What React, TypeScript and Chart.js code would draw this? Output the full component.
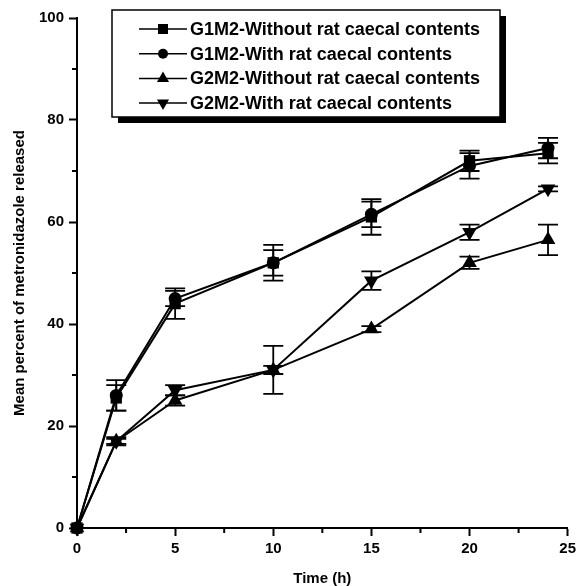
import React, { useEffect, useRef } from 'react';
import { Chart, registerables } from 'chart.js';

Chart.register(...registerables);

const times = [0, 2, 5, 10, 15, 20, 24];
const seriesLabels = [
  'G1M2-Without rat caecal contents',
  'G1M2-With rat caecal contents',
  'G2M2-Without rat caecal contents',
  'G2M2-With rat caecal contents',
];
const g1m2Without = [0, 25.5, 44, 52, 61, 72, 73.5];
const g1m2WithoutErr = [0, 2.5, 3, 3.5, 3.5, 2, 2];
const g1m2With = [0, 26, 45, 52, 61.5, 71, 74.5];
const g1m2WithErr = [0, 3, 1.5, 2.5, 2.5, 2.5, 2];
const g2m2Without = [0, 17, 25, 31, 39, 52, 56.5];
const g2m2WithoutErr = [0, 0.8, 1, 4.7, 0.6, 1.2, 3];
const g2m2With = [0, 17, 27, 31, 48.5, 58, 66.5];
const g2m2WithErr = [0, 0.5, 1, 0.8, 1.8, 1.5, 0.5];
const xMinorTicks = [2.5, 7.5, 12.5, 17.5, 22.5];
const yMinorTicks = [10, 30, 50, 70, 90];
const xTitle = 'Time (h)';
const yTitle = 'Mean percent of metronidazole released';

const FONT = '"Liberation Sans", Arial, Helvetica, sans-serif';

const markerDefs = [
  { style: 'rect', radius: 8, rotation: 0, legendSize: 5 },
  { style: 'circle', radius: 6.5, rotation: 0, legendSize: 5 },
  { style: 'triangle', radius: 8.5, rotation: 0, legendSize: 7 },
  { style: 'triangle', radius: 8.5, rotation: 180, legendSize: 7 },
];

function drawLegendMarker(ctx: CanvasRenderingContext2D, kind: number, x: number, y: number, s: number) {
  ctx.beginPath();
  if (kind === 0) {
    ctx.rect(x - s, y - s, 2 * s, 2 * s);
  } else if (kind === 1) {
    ctx.arc(x, y, s, 0, Math.PI * 2);
  } else if (kind === 2) {
    ctx.moveTo(x, y - s);
    ctx.lineTo(x + s * 0.866, y + s * 0.5);
    ctx.lineTo(x - s * 0.866, y + s * 0.5);
    ctx.closePath();
  } else {
    ctx.moveTo(x, y + s);
    ctx.lineTo(x + s * 0.866, y - s * 0.5);
    ctx.lineTo(x - s * 0.866, y - s * 0.5);
    ctx.closePath();
  }
  ctx.fill();
}

const errorBarPlugin = {
  id: 'errorBars',
  afterDatasetsDraw(chart: any) {
    const ctx = chart.ctx;
    const xs = chart.scales.x;
    const ys = chart.scales.y;
    ctx.save();
    ctx.strokeStyle = '#000';
    ctx.lineWidth = 1.8;
    chart.data.datasets.forEach((ds: any) => {
      const errs: number[] = ds.errors || [];
      ds.data.forEach((p: any, i: number) => {
        const e = errs[i];
        if (!e) return;
        const px = xs.getPixelForValue(p.x);
        const top = ys.getPixelForValue(p.y + e);
        const bot = ys.getPixelForValue(p.y - e);
        ctx.beginPath();
        ctx.moveTo(px, top);
        ctx.lineTo(px, bot);
        ctx.moveTo(px - 10, top);
        ctx.lineTo(px + 10, top);
        ctx.moveTo(px - 10, bot);
        ctx.lineTo(px + 10, bot);
        ctx.stroke();
      });
    });
    ctx.restore();
  },
};

const minorTickPlugin = {
  id: 'minorTicks',
  afterDraw(chart: any) {
    const ctx = chart.ctx;
    const xs = chart.scales.x;
    const ys = chart.scales.y;
    const ca = chart.chartArea;
    ctx.save();
    ctx.strokeStyle = '#000';
    ctx.lineWidth = 2;
    ctx.beginPath();
    xMinorTicks.forEach((v) => {
      const px = xs.getPixelForValue(v);
      ctx.moveTo(px, ca.bottom);
      ctx.lineTo(px, ca.bottom + 5);
    });
    yMinorTicks.forEach((v) => {
      const py = ys.getPixelForValue(v);
      ctx.moveTo(ca.left, py);
      ctx.lineTo(ca.left - 5, py);
    });
    ctx.stroke();
    ctx.restore();
  },
};

const boxLegendPlugin = {
  id: 'boxLegend',
  afterDraw(chart: any) {
    const ctx = chart.ctx;
    const ca = chart.chartArea;
    const left = ca.left + 35;
    const top = ca.top - 8;
    const right = ca.left + 423;
    const bottom = ca.top + 99;
    ctx.save();
    ctx.fillStyle = '#000';
    ctx.fillRect(left + 6, bottom, right - left, 6);
    ctx.fillRect(right, top + 6, 6, bottom - top);
    ctx.fillStyle = '#fff';
    ctx.fillRect(left, top, right - left, bottom - top);
    ctx.strokeStyle = '#000';
    ctx.lineWidth = 1.5;
    ctx.strokeRect(left, top, right - left, bottom - top);
    ctx.font = `bold 18px ${FONT}`;
    ctx.textBaseline = 'middle';
    ctx.textAlign = 'left';
    chart.data.datasets.forEach((ds: any, i: number) => {
      const y = top + 19 + i * 24.7;
      const x0 = left + 27;
      const x1 = left + 75;
      const xm = (x0 + x1) / 2;
      ctx.strokeStyle = '#000';
      ctx.lineWidth = 1.5;
      ctx.beginPath();
      ctx.moveTo(x0, y);
      ctx.lineTo(x1, y);
      ctx.stroke();
      ctx.fillStyle = '#000';
      drawLegendMarker(ctx, i, xm, y, markerDefs[i].legendSize);
      ctx.fillText(ds.label, left + 78, y + 1);
    });
    ctx.restore();
  },
};

export default function App() {
  const ref = useRef<HTMLCanvasElement | null>(null);
  useEffect(() => {
    if (!ref.current) return;
    const mk = (label: string, vals: number[], errs: number[], i: number) => ({
      label,
      data: times.map((t, k) => ({ x: t, y: vals[k] })),
      errors: errs,
      borderColor: '#000',
      backgroundColor: '#000',
      borderWidth: 2,
      pointStyle: markerDefs[i].style,
      pointRotation: markerDefs[i].rotation,
      pointRadius: markerDefs[i].radius,
      pointBackgroundColor: '#000',
      pointBorderColor: '#000',
      pointBorderWidth: 0,
      showLine: true,
      tension: 0,
      fill: false,
      clip: false,
    });
    const chart = new Chart(ref.current, {
      type: 'line',
      data: {
        datasets: [
          mk(seriesLabels[0], g1m2Without, g1m2WithoutErr, 0),
          mk(seriesLabels[1], g1m2With, g1m2WithErr, 1),
          mk(seriesLabels[2], g2m2Without, g2m2WithoutErr, 2),
          mk(seriesLabels[3], g2m2With, g2m2WithErr, 3),
        ] as any,
      },
      options: {
        animation: false,
        responsive: false,
        layout: { padding: { left: 0, top: 18, right: 8, bottom: 0 } },
        plugins: { legend: { display: false }, tooltip: { enabled: false } },
        scales: {
          x: {
            type: 'linear',
            min: 0,
            max: 25,
            afterFit: (s: any) => { s.height = 58; },
            ticks: { stepSize: 5, color: '#000', font: { family: FONT, size: 15, weight: 'bold' }, padding: 4, maxRotation: 0 },
            grid: { display: true, drawOnChartArea: false, drawTicks: true, tickLength: 8, tickWidth: 2, tickColor: '#000', color: '#000' },
            border: { display: true, color: '#000', width: 2 },
            title: { display: true, text: xTitle, color: '#000', font: { family: FONT, size: 15, weight: 'bold', lineHeight: 1 }, padding: { top: 0, bottom: 0 } },
          },
          y: {
            type: 'linear',
            min: 0,
            max: 100,
            afterFit: (s: any) => { s.width = 77; },
            ticks: { stepSize: 20, color: '#000', font: { family: FONT, size: 15, weight: 'bold' }, padding: 5 },
            grid: { display: true, drawOnChartArea: false, drawTicks: true, tickLength: 8, tickWidth: 2, tickColor: '#000', color: '#000' },
            border: { display: true, color: '#000', width: 2 },
            title: { display: true, text: yTitle, color: '#000', font: { family: FONT, size: 15, weight: 'bold', lineHeight: 1 }, padding: { top: 12, bottom: 0 } },
          },
        },
      },
      plugins: [errorBarPlugin, minorTickPlugin, boxLegendPlugin],
    } as any);
    return () => chart.destroy();
  }, []);
  return (
    <div style={{ position: 'fixed', left: 0, top: 0, width: 580, height: 586, background: '#fff' }}>
      <canvas ref={ref} width={580} height={586} style={{ display: 'block', width: 580, height: 586 }} />
    </div>
  );
}
